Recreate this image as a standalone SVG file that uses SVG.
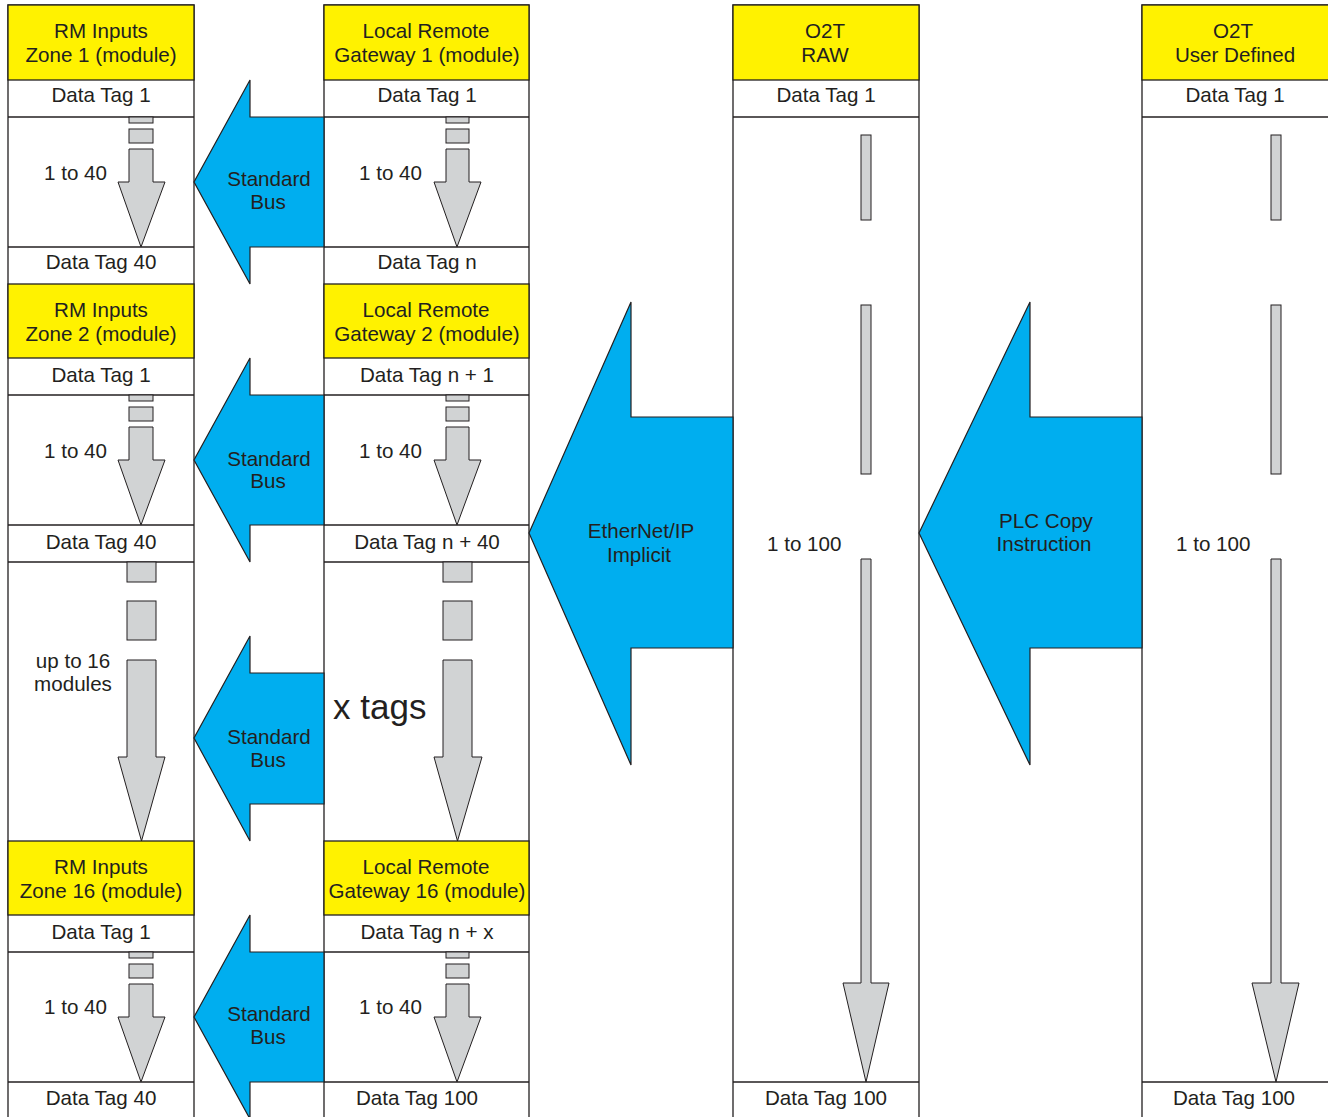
<svg xmlns="http://www.w3.org/2000/svg" width="1328" height="1117" viewBox="0 0 1328 1117">
<style>
text{font-family:"Liberation Sans",Arial,sans-serif;font-size:20.6px;fill:#231f20}
.c{text-anchor:middle}
.box{fill:#fff;stroke:#231f20;stroke-width:1.3}
.hdr{fill:#fff200;stroke:#231f20;stroke-width:1.3}
.ln{stroke:#231f20;stroke-width:1.3;fill:none}
.g{fill:#d1d3d4;stroke:#231f20;stroke-width:1}
.b{fill:#00aeef;stroke:#231f20;stroke-width:1.2;stroke-linejoin:miter}
</style>
<rect width="1328" height="1117" fill="#fff"/>

<g id="col-rm">
<rect class="box" x="8" y="5" width="186" height="1120"/>
<g id="rm-zone1">
<rect class="hdr" x="8" y="5" width="186" height="75"/>
<text class="c" x="101" y="38">RM Inputs</text>
<text class="c" x="101" y="62">Zone 1 (module)</text>
<line class="ln" x1="8" y1="117" x2="194" y2="117"/>
<text class="c" x="101" y="102">Data Tag 1</text>
<text x="44" y="180">1 to 40</text>
<line class="ln" x1="8" y1="247" x2="194" y2="247"/>
<text class="c" x="101" y="269">Data Tag 40</text>
</g>
<g id="rm-zone2">
<rect class="hdr" x="8" y="284" width="186" height="74"/>
<text class="c" x="101" y="317">RM Inputs</text>
<text class="c" x="101" y="341">Zone 2 (module)</text>
<line class="ln" x1="8" y1="395" x2="194" y2="395"/>
<text class="c" x="101" y="382">Data Tag 1</text>
<text x="44" y="458">1 to 40</text>
<line class="ln" x1="8" y1="525" x2="194" y2="525"/>
<line class="ln" x1="8" y1="562" x2="194" y2="562"/>
<text class="c" x="101" y="549">Data Tag 40</text>
</g>
<g id="rm-middle">
<text class="c" x="73" y="668">up to 16</text>
<text class="c" x="73" y="691">modules</text>
</g>
<g id="rm-zone16">
<rect class="hdr" x="8" y="841" width="186" height="74"/>
<text class="c" x="101" y="874">RM Inputs</text>
<text class="c" x="101" y="898">Zone 16 (module)</text>
<line class="ln" x1="8" y1="952" x2="194" y2="952"/>
<text class="c" x="101" y="939">Data Tag 1</text>
<text x="44" y="1014">1 to 40</text>
<line class="ln" x1="8" y1="1082" x2="194" y2="1082"/>
<text class="c" x="101" y="1105">Data Tag 40</text>
</g>
</g>

<g id="col-gw">
<rect class="box" x="324" y="5" width="205" height="1120"/>
<g id="gw-1">
<rect class="hdr" x="324" y="5" width="205" height="75"/>
<text class="c" x="426" y="38">Local Remote</text>
<text class="c" x="427" y="62">Gateway 1 (module)</text>
<line class="ln" x1="324" y1="117" x2="529" y2="117"/>
<text class="c" x="427" y="102">Data Tag 1</text>
<text x="359" y="180">1 to 40</text>
<line class="ln" x1="324" y1="247" x2="529" y2="247"/>
<text class="c" x="427" y="269">Data Tag n</text>
</g>
<g id="gw-2">
<rect class="hdr" x="324" y="284" width="205" height="74"/>
<text class="c" x="426" y="317">Local Remote</text>
<text class="c" x="427" y="341">Gateway 2 (module)</text>
<line class="ln" x1="324" y1="395" x2="529" y2="395"/>
<text class="c" x="427" y="382">Data Tag n + 1</text>
<text x="359" y="458">1 to 40</text>
<line class="ln" x1="324" y1="525" x2="529" y2="525"/>
<line class="ln" x1="324" y1="562" x2="529" y2="562"/>
<text class="c" x="427" y="549">Data Tag n + 40</text>
</g>
<g id="gw-middle">
<text x="333" y="719" style="font-size:35px">x tags</text>
</g>
<g id="gw-16">
<rect class="hdr" x="324" y="841" width="205" height="74"/>
<text class="c" x="426" y="874">Local Remote</text>
<text class="c" x="427" y="898">Gateway 16 (module)</text>
<line class="ln" x1="324" y1="952" x2="529" y2="952"/>
<text class="c" x="427" y="939">Data Tag n + x</text>
<text x="359" y="1014">1 to 40</text>
<line class="ln" x1="324" y1="1082" x2="529" y2="1082"/>
<text class="c" x="417" y="1105">Data Tag 100</text>
</g>
</g>

<g id="col-raw">
<rect class="box" x="733" y="5" width="186" height="1120"/>
<rect class="hdr" x="733" y="5" width="186" height="75"/>
<text class="c" x="825" y="38">O2T</text>
<text class="c" x="825" y="62">RAW</text>
<line class="ln" x1="733" y1="117" x2="919" y2="117"/>
<text class="c" x="826" y="102">Data Tag 1</text>
<text x="767" y="551">1 to 100</text>
<line class="ln" x1="733" y1="1082" x2="919" y2="1082"/>
<text class="c" x="826" y="1105">Data Tag 100</text>
</g>

<g id="col-user">
<rect class="box" x="1142" y="5" width="190" height="1120"/>
<rect class="hdr" x="1142" y="5" width="190" height="75"/>
<text class="c" x="1233" y="38">O2T</text>
<text class="c" x="1235" y="62">User Defined</text>
<line class="ln" x1="1142" y1="117" x2="1332" y2="117"/>
<text class="c" x="1235" y="102">Data Tag 1</text>
<text x="1176" y="551">1 to 100</text>
<line class="ln" x1="1142" y1="1082" x2="1332" y2="1082"/>
<text class="c" x="1234" y="1105">Data Tag 100</text>
</g>

<g id="connectors">
<g id="grey-arrows">
<rect class="g" x="129" y="117" width="24" height="6"/>
<rect class="g" x="129" y="129" width="24" height="14"/>
<polygon class="g" points="129,149 153,149 153,182 165,182 141,247 118,182 129,182"/>
<rect class="g" x="129" y="395" width="24" height="6"/>
<rect class="g" x="129" y="407" width="24" height="14"/>
<polygon class="g" points="129,427 153,427 153,460 165,460 141,525 118,460 129,460"/>
<rect class="g" x="127" y="562" width="29" height="20"/>
<rect class="g" x="127" y="601" width="29" height="39"/>
<polygon class="g" points="127,660 156,660 156,757 165,757 141.5,841 118,757 127,757"/>
<rect class="g" x="129" y="952" width="24" height="6"/>
<rect class="g" x="129" y="964" width="24" height="14"/>
<polygon class="g" points="129,984 153,984 153,1017 165,1017 141,1082 118,1017 129,1017"/>
<rect class="g" x="446" y="117" width="23" height="6"/>
<rect class="g" x="446" y="129" width="23" height="14"/>
<polygon class="g" points="446,149 469,149 469,182 481,182 457,247 434,182 446,182"/>
<rect class="g" x="446" y="395" width="23" height="6"/>
<rect class="g" x="446" y="407" width="23" height="14"/>
<polygon class="g" points="446,427 469,427 469,460 481,460 457,525 434,460 446,460"/>
<rect class="g" x="443" y="562" width="29" height="20"/>
<rect class="g" x="443" y="601" width="29" height="39"/>
<polygon class="g" points="443,660 472,660 472,757 482,757 457.5,841 434,757 443,757"/>
<rect class="g" x="446" y="952" width="23" height="6"/>
<rect class="g" x="446" y="964" width="23" height="14"/>
<polygon class="g" points="446,984 469,984 469,1017 481,1017 457,1082 434,1017 446,1017"/>
<rect class="g" x="861" y="135" width="10" height="85"/>
<rect class="g" x="861" y="305" width="10" height="169"/>
<polygon class="g" points="861,559 871,559 871,983 889,983 866,1082 843,983 861,983"/>
<rect class="g" x="1271" y="135" width="10" height="85"/>
<rect class="g" x="1271" y="305" width="10" height="169"/>
<polygon class="g" points="1271,559 1281,559 1281,983 1299,983 1276,1082 1252,983 1271,983"/>
</g>
<g id="bus-1">
<polygon class="b" points="324,117 250,117 250,80 194,182 250,284 250,247 324,247"/>
<text class="c" x="269" y="186">Standard</text>
<text class="c" x="268" y="209">Bus</text>
</g>
<g id="bus-2">
<polygon class="b" points="324,395 250,395 250,358 194,460 250,562 250,525 324,525"/>
<text class="c" x="269" y="466">Standard</text>
<text class="c" x="268" y="488">Bus</text>
</g>
<g id="bus-3">
<polygon class="b" points="324,673 250,673 250,636 194,738 250,841 250,804 324,804"/>
<text class="c" x="269" y="744">Standard</text>
<text class="c" x="268" y="767">Bus</text>
</g>
<g id="bus-4">
<polygon class="b" points="324,952 250,952 250,915 194,1017 250,1119 250,1082 324,1082"/>
<text class="c" x="269" y="1021">Standard</text>
<text class="c" x="268" y="1044">Bus</text>
</g>
<g id="ethernet">
<polygon class="b" points="733,417 631,417 631,302 529,533 631,765 631,648 733,648"/>
<text class="c" x="641" y="538">EtherNet/IP</text>
<text class="c" x="639" y="562">Implicit</text>
</g>
<g id="plc-copy">
<polygon class="b" points="1142,417 1030,417 1030,302 919,533 1030,765 1030,648 1142,648"/>
<text class="c" x="1046" y="528">PLC Copy</text>
<text class="c" x="1044" y="551">Instruction</text>
</g>
</g>
</svg>
